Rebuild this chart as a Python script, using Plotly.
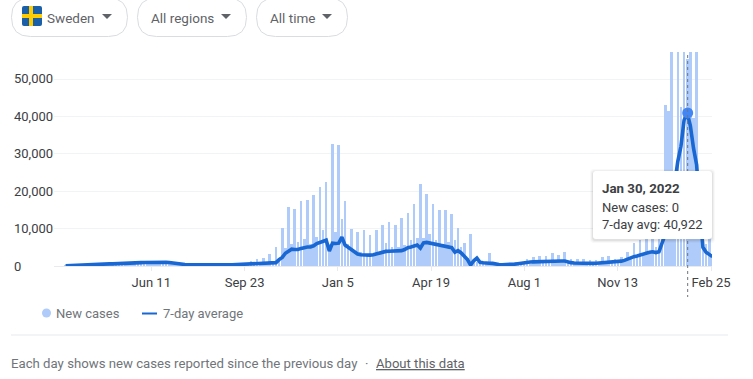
import pandas as pd
import plotly.graph_objects as go

W, H = 753, 379
PLOT_L, PLOT_R, PLOT_T, PLOT_B = 54, 712, 52, 266
PX_PER_DAY = 0.897
YMAX = (PLOT_B - PLOT_T) / 37.4 * 10000

# weekly reporting peaks, first one Mar 10 2020 (cases per bar)
weekly_peak = [
    100, 150, 250, 350, 500, 600, 750, 800, 700, 650,
    800, 900, 1100, 1300, 1300, 1200, 900, 650, 500, 420, 400, 380, 400, 420, 400, 420,
    600, 700, 900, 1400, 1900, 2100, 3200, 5200, 10200, 15800, 15200, 17400, 17600, 19000, 21000, 22400, 32500,
    32300,
    17400, 9900, 9200, 9600, 8200, 9600, 10900, 11800, 10900, 12800, 14100, 16500, 21900, 19200, 16700, 15000,
    15000, 13900, 10100, 6100, 8500, 1000, 700, 3500, 600, 500, 500, 800, 1200, 1900, 2400, 2800,
    2800, 3500, 2900, 3700, 1900, 1900, 1900, 1600, 1600, 2500, 2600, 2000, 2400, 3800, 6100, 7000,
    7500, 8500, 12000, 43000, 62000, 68000, 74000, 71000, 60000, 10000, 8000,
]
# lower bars that sit between the peaks, first one Mar 6 2020
between_peak = [
    50, 150, 250, 400, 500, 600, 600, 560, 600, 600,
    620, 780, 900, 980, 1000, 1000, 980, 800, 550, 400,
    330, 300, 330, 320, 280, 300, 320, 350, 350, 420,
    480, 520, 620, 800, 2000, 4800, 6000, 6500, 7200, 6000,
    7800, 9600, 6000, 9000, 12600, 6000, 4000, 3800, 3000, 3200,
    3800, 6100, 5000, 5000, 5500, 7000, 7500, 7500, 8500, 7000,
    6000, 6500, 7000, 5000, 2200, 1200, 400, 500, 400, 300,
    300, 350, 450, 500, 650, 800, 900, 1000, 1100, 1200,
    1000, 800, 800, 800, 800, 800, 900, 1100, 1200, 1500,
    2000, 2500, 3000, 3500, 5000, 9000, 41500, 25000, 42500, 55300,
    39500, 15000, 6000, 3000,
]
# 7-day average, every half week from Mar 6 2020
seven_day_avg = [
    50, 100, 150, 200, 250, 300, 400, 450, 500, 550, 600, 620, 600, 580, 560, 580, 600, 620, 600, 580,
    620, 700, 780, 850, 900, 950, 980, 1000,
    1000, 1020, 1000, 1000, 980, 950, 800, 650, 550, 450, 400, 350, 330, 320, 300, 320, 330, 350, 320, 300,
    280, 280, 300, 320, 300, 320, 350, 350, 350, 380, 420, 450, 480, 500, 520, 550, 620, 700, 780, 900,
    1700, 2300, 3400, 4000, 4500, 4400, 4400, 4700, 5000, 5100, 5100, 5400, 6000, 6300, 6700, 6900, 4000, 6100, 6000, 6100,
    7700, 5600, 5000, 4300, 3800, 3200, 3000, 2900, 2850, 2900, 3000, 3200, 3500, 3800, 3900, 3950, 4000, 4000, 4100, 4100,
    4400, 4900, 5100, 5400, 5600, 4800, 6200, 6300, 6100, 6000, 5800, 5500, 5300, 5200, 5100, 4900, 3700, 4100, 3500, 2600,
    1700, 250, 1400, 2100, 1000, 850, 700, 750, 700, 500, 400, 350, 350, 380, 420, 500, 600, 750, 850, 950,
    1050, 1100, 1150, 1200, 1250, 1300, 1300, 1350, 1400, 1350, 1350, 1350, 1000, 900, 800, 750, 750, 750, 750, 750,
    700, 750, 800, 850, 900, 950, 1050, 1100, 1150, 1300, 1500, 1900, 2300, 2500, 2700, 3000, 3300, 3500, 3700, 3800,
    3600, 3800, 6500, 8500, 11000, 15000, 22000, 28000, 32000, 39000, 40922, 37500, 31500, 27000, 15000, 5000, 3700, 3000, 2500,
]
x_tick_dates = ["2020-06-11", "2020-09-23", "2021-01-05", "2021-04-19", "2021-08-01", "2021-11-13", "2022-02-25"]
x_tick_labels = ["Jun 11", "Sep 23", "Jan 5", "Apr 19", "Aug 1", "Nov 13", "Feb 25"]
y_tick_values = [0, 10000, 20000, 30000, 40000, 50000]
y_tick_labels = ["0", "10,000", "20,000", "30,000", "40,000", "50,000"]
hover_date = "2022-01-30"
hover_new_cases = 0
hover_avg = 40922

half_week = pd.Timedelta(hours=84)
origin = pd.Timestamp("2021-01-06")
avg_dates = [origin + half_week * n for n in range(-87, -87 + len(seven_day_avg))]
peak_dates = [origin + half_week * 2 * k for k in range(-43, -43 + len(weekly_peak))]
between_dates = [origin + half_week * n for n in range(-87, -87 + 2 * len(between_peak), 2)]

last_tick = pd.Timestamp(x_tick_dates[-1])
x0 = last_tick - pd.Timedelta(days=(711 - PLOT_L) / PX_PER_DAY)
x1 = last_tick + pd.Timedelta(days=(PLOT_R - 711) / PX_PER_DAY)


def px(x):
    return x / W


def py(y):
    return 1 - y / H


def rrect(x0_, y0_, x1_, y1_, r):
    pts = [
        ("M", x0_ + r, y0_), ("L", x1_ - r, y0_), ("Q", x1_, y0_, x1_, y0_ + r),
        ("L", x1_, y1_ - r), ("Q", x1_, y1_, x1_ - r, y1_), ("L", x0_ + r, y1_),
        ("Q", x0_, y1_, x0_, y1_ - r), ("L", x0_, y0_ + r), ("Q", x0_, y0_, x0_ + r, y0_),
    ]
    out = []
    for p in pts:
        coords = p[1:]
        s = " ".join(
            f"{px(coords[i]):.5f},{py(coords[i + 1]):.5f}" for i in range(0, len(coords), 2)
        )
        out.append(p[0] + " " + s)
    return " ".join(out) + " Z"


def paper_shape(path, fill="rgba(0,0,0,0)", line="rgba(0,0,0,0)", w=1):
    return dict(type="path", xref="paper", yref="paper", path=path, fillcolor=fill,
                line=dict(color=line, width=w), layer="above")


def box(x0_, y0_, x1_, y1_, fill):
    return dict(type="rect", xref="paper", yref="paper", x0=px(x0_), x1=px(x1_), y0=py(y1_), y1=py(y0_),
                fillcolor=fill, line=dict(width=0), layer="above")


def text(x, y, s, size=13, color="#5f6368", anchor="left"):
    return dict(xref="paper", yref="paper", x=px(x), y=py(y), text=s, showarrow=False, xanchor=anchor,
                yanchor="middle", font=dict(family="Roboto", size=size, color=color), xshift=0, yshift=0,
                borderpad=0, borderwidth=0)


BAR_W = 2.6 / PX_PER_DAY * 86400000
fig = go.Figure()
fig.add_bar(x=peak_dates, y=weekly_peak, width=BAR_W, marker=dict(color="#aecbfa", line=dict(width=0)), name="New cases")
fig.add_bar(x=between_dates, y=between_peak, width=BAR_W, marker=dict(color="#aecbfa", line=dict(width=0)), showlegend=False)
fig.add_scatter(x=avg_dates, y=seven_day_avg, mode="lines", line=dict(color="#1967d2", width=3.6), name="7-day average")
fig.add_scatter(x=[hover_date], y=[hover_avg], mode="markers", marker=dict(color="#4285f4", size=11), showlegend=False)

shapes = [
    dict(type="line", xref="x", yref="paper", x0=hover_date, x1=hover_date, y0=py(55), y1=py(297),
         line=dict(color="#70757a", width=1, dash="dot"), layer="above"),
]
# tooltip shadow and body
for grow, alpha in [(3, 0.03), (2, 0.05), (1, 0.08)]:
    shapes.append(paper_shape(rrect(593 - grow, 171 - grow + 1, 712 + grow, 239 + grow + 1, 4), fill=f"rgba(60,64,67,{alpha})"))
shapes.append(paper_shape(rrect(593, 171, 712, 239, 3), fill="#ffffff"))
# selector pills
for a, b in [(11.5, 127.5), (137.5, 246.5), (256.5, 347.5)]:
    shapes.append(paper_shape(rrect(a, -2, b, 36.5, 19), fill="#ffffff", line="#dadce0"))
for a in [102, 221, 322]:
    shapes.append(paper_shape(f"M {px(a):.5f},{py(14):.5f} L {px(a + 10):.5f},{py(14):.5f} L {px(a + 5):.5f},{py(19):.5f} Z", fill="#5f6368"))
# flag
shapes += [
    paper_shape(rrect(22, 6, 42, 26, 2), fill="#1b5fa8"),
    box(29, 6, 33, 26, "#fecc00"),
    box(22, 14, 42, 18, "#fecc00"),
]
# legend marks, divider
shapes += [
    dict(type="circle", xref="paper", yref="paper", x0=px(42), x1=px(51), y0=py(317.5), y1=py(308.5),
         fillcolor="#aecbfa", line=dict(width=0), layer="above"),
    box(142, 312.5, 157, 314.5, "#1967d2"),
    box(11, 334.5, 728, 335.5, "#e8eaed"),
]

annotations = [
    text(47, 17.5, "Sweden", 13.5),
    text(151, 17.5, "All regions", 13.5),
    text(270, 17.5, "All time", 13.5),
    text(56, 313.5, "New cases", 13, "#70757a"),
    text(163, 313.5, "7-day average", 13, "#70757a"),
    text(11, 363, "Each day shows new cases reported since the previous day", 13.2, "#70757a"),
    text(365, 363, "·", 13, "#70757a"),
    text(376, 363, "<u>About this data</u>", 13.1, "#5f6368"),
    text(602, 188, "<b>Jan 30, 2022</b>", 13.3, "#3c4043"),
    text(602, 207, f"New cases: {hover_new_cases}", 13, "#3c4043"),
    text(602, 224, f"7-day avg: {hover_avg:,}", 13, "#3c4043"),
]
for v, lab in zip(y_tick_values, y_tick_labels):
    annotations.append(dict(xref="paper", yref="y", x=px(11.5), y=v, text=lab, showarrow=False, xanchor="left",
                            yanchor="middle", font=dict(family="Roboto", size=13, color="#3c4043")))

fig.update_layout(
    width=W, height=H, margin=dict(l=0, r=0, t=0, b=0, autoexpand=False), paper_bgcolor="#ffffff", plot_bgcolor="#ffffff",
    barmode="overlay", bargap=0, showlegend=False, hovermode=False, shapes=shapes, annotations=annotations,
    font=dict(family="Roboto"),
    xaxis=dict(domain=[px(PLOT_L), px(PLOT_R)], range=[x0, x1], type="date", tickmode="array",
               tickvals=x_tick_dates, ticktext=x_tick_labels, ticks="outside", ticklen=4, tickcolor="#e8eaed",
               tickwidth=1, showgrid=False, zeroline=False, showline=False,
               tickfont=dict(family="Roboto", size=13, color="#3c4043")),
    yaxis=dict(domain=[py(PLOT_B), py(PLOT_T)], range=[0, YMAX], tickmode="array", tickvals=y_tick_values,
               showticklabels=False, ticks="", showgrid=True, gridcolor="#f1f3f4", gridwidth=1,
               zeroline=True, zerolinecolor="#e8eaed", zerolinewidth=1),
)

fig.write_html("out.html", config={"displayModeBar": False},
               post_script="document.body.style.margin='0';document.body.style.overflow='hidden';")
